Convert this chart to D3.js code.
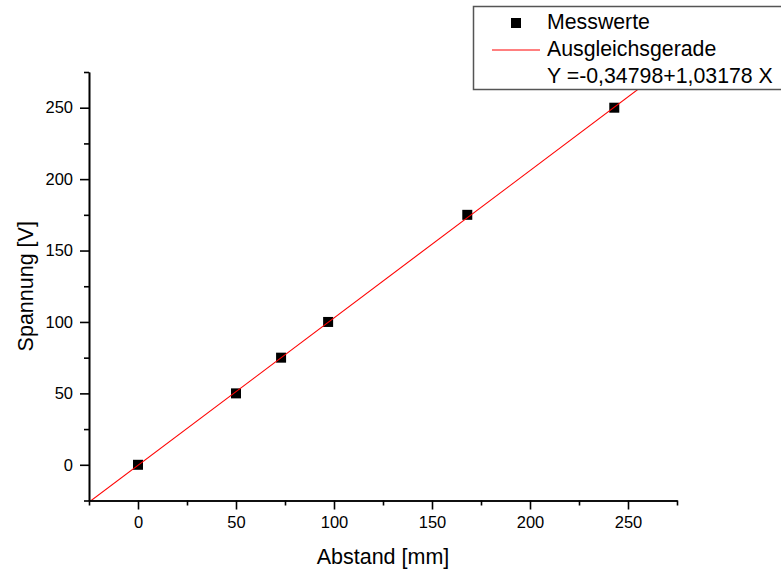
<!DOCTYPE html>
<html><head><meta charset="utf-8">
<script src="https://cdn.jsdelivr.net/npm/d3@7"></script>
<style>body{margin:0;background:#fff;} svg{display:block;font-family:"Liberation Sans",Arial,sans-serif;}</style>
</head><body>
<svg id="c" width="781" height="573"></svg>
<script>
const xValues = [0, 50, 73, 97, 168, 243];
const yValues = [0, 50, 75, 100, 175, 250];
const fitIntercept = -0.34798;
const fitSlope = 1.03178;
const xTicks = [0, 50, 100, 150, 200, 250];
const yTicks = [0, 50, 100, 150, 200, 250];
const minorTicks = [-25, 25, 75, 125, 175, 225, 275];
const legendLabels = ["Messwerte", "Ausgleichsgerade", "Y =-0,34798+1,03178 X"];
const xTitle = "Abstand [mm]";
const yTitle = "Spannung [V]";

const svg = d3.select("#c");
const L = 89, R = 677, T = 72, B = 500.5;
const x = d3.scaleLinear().domain([-25, 275]).range([L, R]);
const y = d3.scaleLinear().domain([-25, 275]).range([B, T]);

svg.append("clipPath").attr("id","clip").append("rect")
  .attr("x", L).attr("y", T).attr("width", R-L).attr("height", B-T);

const lx = [-25, 275];
const s = 10;
svg.selectAll("rect.pt").data(xValues.map((v,i)=>[v,yValues[i]])).enter()
  .append("rect").attr("class","pt")
  .attr("x", d=>x(d[0])-s/2).attr("y", d=>y(d[1])-s/2)
  .attr("width", s).attr("height", s).attr("fill","#000");
svg.append("line").attr("clip-path","url(#clip)")
  .attr("x1", x(lx[0])).attr("y1", y(fitIntercept + fitSlope*lx[0]))
  .attr("x2", x(lx[1])).attr("y2", y(fitIntercept + fitSlope*lx[1]))
  .attr("stroke", "#ff0000").attr("stroke-width", 1.1);

const xAxis = d3.axisBottom(x).tickValues(xTicks).tickSize(9).tickSizeOuter(0).tickPadding(7);
const xMinor = d3.axisBottom(x).tickValues(minorTicks).tickSize(5).tickSizeOuter(0).tickFormat("");
const yAxis = d3.axisLeft(y).tickValues(yTicks).tickSize(9).tickSizeOuter(0).tickPadding(7);
const yMinor = d3.axisLeft(y).tickValues(minorTicks).tickSize(5).tickSizeOuter(0).tickFormat("");

function style(g){
  g.selectAll("path,line").attr("stroke","#000").attr("stroke-width",1.6);
  g.selectAll("text").attr("fill","#000").attr("font-size",16.5).attr("font-family","'Liberation Sans',Arial,sans-serif");
}
svg.append("g").attr("transform",`translate(0,${B})`).call(xMinor).call(style);
svg.append("g").attr("transform",`translate(0,${B})`).call(xAxis).call(style);
svg.append("g").attr("transform",`translate(${L},0)`).call(yMinor).call(style);
svg.append("g").attr("transform",`translate(${L},0)`).call(yAxis).call(style);

svg.append("text").attr("x",(L+R)/2).attr("y",564).attr("text-anchor","middle")
  .attr("font-size",21.5).text(xTitle);
svg.append("text").attr("transform",`translate(33,${(T+B)/2}) rotate(-90)`).attr("text-anchor","middle")
  .attr("font-size",21.5).text(yTitle);

const lg = svg.append("g");
lg.append("rect").attr("x",473.5).attr("y",6.5).attr("width",320).attr("height",83)
  .attr("fill","#fff").attr("stroke","#555").attr("stroke-width",1.5);
lg.append("rect").attr("x",511).attr("y",18).attr("width",10).attr("height",10).attr("fill","#000");
lg.append("line").attr("x1",492).attr("x2",540).attr("y1",50).attr("y2",50).attr("stroke","#ff0000").attr("stroke-width",1);
legendLabels.forEach((t,i)=>{
  lg.append("text").attr("x",547).attr("y",29+i*27).attr("font-size",21.3).attr("fill","#000").text(t);
});
</script>
</body></html>
